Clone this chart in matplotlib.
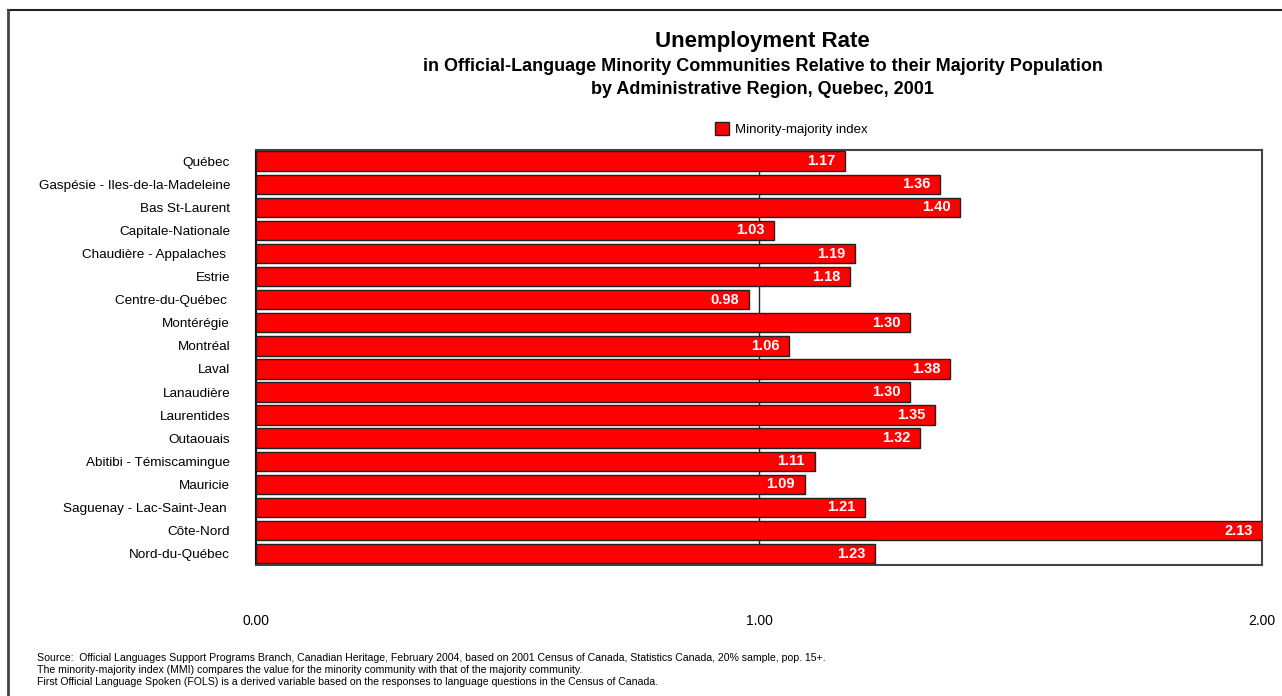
import matplotlib.pyplot as plt
from matplotlib.lines import Line2D
from matplotlib.patches import Patch

plt.rcParams['font.family'] = ['Liberation Sans', 'DejaVu Sans']

regions = [
    "Québec", "Gaspésie - Iles-de-la-Madeleine", "Bas St-Laurent",
    "Capitale-Nationale", "Chaudière - Appalaches ", "Estrie",
    "Centre-du-Québec ", "Montérégie", "Montréal", "Laval", "Lanaudière",
    "Laurentides", "Outaouais", "Abitibi - Témiscamingue", "Mauricie",
    "Saguenay - Lac-Saint-Jean ", "Côte-Nord", "Nord-du-Québec",
]
mmi = [1.17, 1.36, 1.40, 1.03, 1.19, 1.18, 0.98, 1.30, 1.06, 1.38,
       1.30, 1.35, 1.32, 1.11, 1.09, 1.21, 2.13, 1.23]
xticks = [0.0, 1.0, 2.0]

notes = [
    "Source:  Official Languages Support Programs Branch, Canadian Heritage, February 2004, based on 2001 Census of Canada, Statistics Canada, 20% sample, pop. 15+.",
    "The minority-majority index (MMI) compares the value for the minority community with that of the majority community.",
    "First Official Language Spoken (FOLS) is a derived variable based on the responses to language questions in the Census of Canada.",
]

fig = plt.figure(figsize=(12.82, 6.96), dpi=100)
ax = fig.add_axes([0.2, 0.188, 0.7845, 0.597])

ypos = list(range(len(regions)))
ax.barh(ypos, mmi, height=0.84, color="#ff0000", edgecolor="#222222",
        linewidth=1.0, zorder=3)
ax.axvline(1.0, color="#222222", linewidth=1.0, zorder=1)

xmax = 2.0
for y, v in zip(ypos, mmi):
    ax.annotate(f"{v:.2f}", xy=(min(v, xmax), y), xytext=(-7, 0),
                textcoords="offset points", ha="right", va="center",
                color="white", fontweight="bold", fontsize=10.5, zorder=4)

ax.set_xlim(0, xmax)
ax.set_ylim(len(regions) - 0.5, -0.5)
ax.set_yticks(ypos)
ax.set_yticklabels(regions, fontsize=9.7)
ax.set_xticks(xticks)
ax.set_xticklabels([f"{t:.2f}" for t in xticks], fontsize=10)
ax.tick_params(length=0)
ax.tick_params(axis="x", pad=35)
ax.tick_params(axis="y", pad=19)
for s in ax.spines.values():
    s.set_color("#444444")
    s.set_linewidth(1.5)
ax.spines["left"].set_color("#111111")

fig.text(0.595, 0.940, "Unemployment Rate", ha="center", va="center",
         fontsize=16, fontweight="bold")
fig.text(0.595, 0.905,
         "in Official-Language Minority Communities Relative to their Majority Population",
         ha="center", va="center", fontsize=13, fontweight="bold")
fig.text(0.595, 0.872, "by Administrative Region, Quebec, 2001",
         ha="center", va="center", fontsize=13, fontweight="bold")

fig.legend(handles=[Patch(facecolor="#ff0000", edgecolor="#222222",
                          label="Minority-majority index")],
           loc="center", bbox_to_anchor=(0.617, 0.815), frameon=False,
           fontsize=9.5, handlelength=1.1, handleheight=1.1,
           handletextpad=0.4)

for i, n in enumerate(notes):
    fig.text(0.029, 0.0546 - i * 0.0175, n, fontsize=7.6,
             family=['Liberation Sans Narrow', 'Liberation Sans'],
             ha="left", va="center")

# outer frame (top and left edges)
fig.add_artist(Line2D([0.0065, 1.0], [0.986, 0.986], color="#222222",
                      linewidth=1.5, transform=fig.transFigure))
fig.add_artist(Line2D([0.0065, 0.0065], [0.0, 0.986], color="#444444",
                      linewidth=2, transform=fig.transFigure))

fig.savefig("out.png", dpi=100)
